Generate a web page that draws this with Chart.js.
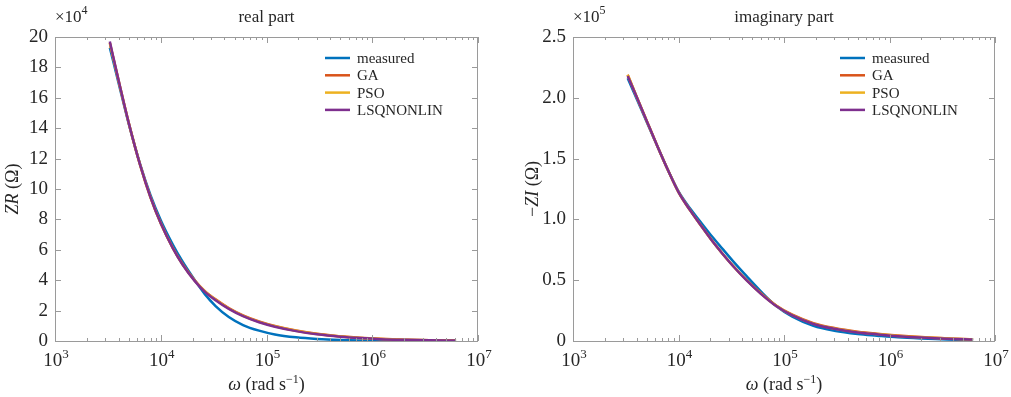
<!DOCTYPE html>
<html>
<head>
<meta charset="utf-8">
<script src="https://cdn.jsdelivr.net/npm/chart.js@4.4.0/dist/chart.umd.min.js"></script>
<style>
  body { margin: 0; background: #fff; }
  .panel { position: absolute; top: 0; }
</style>
</head>
<body>
<div class="panel" style="left:0"><canvas id="realChart" width="505" height="397"></canvas></div>
<div class="panel" style="left:505px"><canvas id="imagChart" width="506" height="397"></canvas></div>
<script>
// angular frequency (rad/s)
var freq = [3.3e3, 4e3, 5e3, 6.4e3, 8e3, 1e4, 1.3e4, 1.6e4, 2.1e4, 2.6e4, 3.3e4, 4.4e4,
            6e4, 8.5e4, 1.2e5, 1.9e5, 3e5, 5e5, 7.6e5, 1.2e6, 2e6, 3.5e6, 6.2e6];

// real part, x 10^4 ohm
var realMeasured = [19.3, 16.95, 14.25, 11.6, 9.6, 7.95, 6.35, 5.25, 4.0, 3.1, 2.3, 1.58,
                    1.05, 0.68, 0.43, 0.24, 0.13, 0.06, 0.03, 0.015, 0.008, 0.004, 0.002];
var realGA = [19.6, 17.1, 14.3, 11.55, 9.45, 7.75, 6.13, 5.08, 3.98, 3.3, 2.74, 2.17,
              1.69, 1.29, 0.99, 0.69, 0.47, 0.31, 0.21, 0.14, 0.09, 0.055, 0.04];
var realPSO = [19.6, 17.1, 14.3, 11.55, 9.45, 7.74, 6.12, 5.06, 3.96, 3.28, 2.71, 2.14,
               1.66, 1.26, 0.97, 0.67, 0.455, 0.295, 0.2, 0.13, 0.082, 0.05, 0.035];
var realLSQ = [19.7, 17.13, 14.3, 11.55, 9.45, 7.74, 6.11, 5.05, 3.94, 3.25, 2.68, 2.11,
               1.63, 1.23, 0.94, 0.65, 0.44, 0.28, 0.19, 0.12, 0.075, 0.045, 0.03];

// imaginary part (-ZI), x 10^5 ohm
var imagMeasured = [2.16, 1.995, 1.8, 1.59, 1.4, 1.23, 1.085, 0.985, 0.855, 0.76, 0.655, 0.535,
                    0.41, 0.285, 0.2, 0.125, 0.085, 0.058, 0.044, 0.03, 0.02, 0.012, 0.008];
var imagGA = [2.19, 2.01, 1.81, 1.59, 1.4, 1.225, 1.07, 0.96, 0.82, 0.72, 0.617, 0.503,
              0.395, 0.29, 0.216, 0.147, 0.107, 0.077, 0.06, 0.045, 0.032, 0.021, 0.015];
var imagPSO = [2.19, 2.01, 1.81, 1.59, 1.4, 1.225, 1.07, 0.96, 0.82, 0.72, 0.616, 0.502,
               0.392, 0.287, 0.213, 0.143, 0.103, 0.073, 0.057, 0.042, 0.03, 0.02, 0.013];
var imagLSQ = [2.18, 2.01, 1.81, 1.59, 1.4, 1.225, 1.07, 0.96, 0.82, 0.72, 0.615, 0.5,
               0.39, 0.285, 0.21, 0.14, 0.1, 0.07, 0.055, 0.04, 0.028, 0.018, 0.012];

var seriesNames = ['measured', 'GA', 'PSO', 'LSQNONLIN'];
var seriesColors = ['#0072BD', '#D95319', '#EDB120', '#7E2F8E'];
var xTicks = [1e3, 1e4, 1e5, 1e6, 1e7];
var realTicks = [0, 2, 4, 6, 8, 10, 12, 14, 16, 18, 20];
var imagTicks = [0, 0.5, 1.0, 1.5, 2.0, 2.5];

var SERIF = '"Liberation Serif", "Times New Roman", serif';
var TEXT = '#262626';
var FRAME = '#9a9a9a';

function drawRich(ctx, parts, x, y, align) {
    var total = 0;
    parts.forEach(function (p) {
        ctx.font = p.font;
        p.w = ctx.measureText(p.t).width;
        total += p.w;
    });
    var cx = x;
    if (align === 'center') cx = x - total / 2;
    if (align === 'right') cx = x - total;
    ctx.textAlign = 'left';
    ctx.textBaseline = 'alphabetic';
    parts.forEach(function (p) {
        ctx.font = p.font;
        ctx.fillText(p.t, cx, y + (p.dy || 0));
        cx += p.w;
    });
}

function makeChart(id, cfg) {
    var datasets = [cfg.measured, cfg.ga, cfg.pso, cfg.lsq].map(function (vals, i) {
        return {
            label: seriesNames[i],
            data: freq.map(function (f, j) { return { x: f, y: vals[j] }; }),
            borderColor: seriesColors[i],
            borderWidth: 2.5,
            pointRadius: 0,
            fill: false,
            cubicInterpolationMode: 'monotone',
            order: 4 - i
        };
    });

    var decor = {
        id: 'decor',
        afterDatasetsDraw: function (chart) {
            var ctx = chart.ctx;
            var a = chart.chartArea;
            var xs = chart.scales.x, ys = chart.scales.y;
            ctx.save();
            ctx.strokeStyle = FRAME;
            ctx.lineWidth = 1;
            ctx.strokeRect(a.left + 0.5, a.top + 0.5, a.right - a.left - 1, a.bottom - a.top);
            ctx.beginPath();
            // x ticks, major and minor, bottom and top
            for (var d = 3; d <= 7; d++) {
                for (var m = 1; m <= 9; m++) {
                    var v = m * Math.pow(10, d);
                    if (v > 1e7) break;
                    var px = Math.round(xs.getPixelForValue(v)) + 0.5;
                    var len = m === 1 ? 6 : 3;
                    ctx.moveTo(px, a.bottom); ctx.lineTo(px, a.bottom - len);
                    ctx.moveTo(px, a.top); ctx.lineTo(px, a.top + len);
                }
            }
            cfg.yTicks.forEach(function (v) {
                var py = Math.round(ys.getPixelForValue(v)) + 0.5;
                ctx.moveTo(a.left, py); ctx.lineTo(a.left + 6, py);
                ctx.moveTo(a.right, py); ctx.lineTo(a.right - 6, py);
            });
            ctx.stroke();

            ctx.fillStyle = TEXT;
            // x tick labels with exponent
            xTicks.forEach(function (v) {
                var px = xs.getPixelForValue(v);
                var e = String(Math.round(Math.log10(v)));
                drawRich(ctx, [
                    { t: '10', font: '19px ' + SERIF },
                    { t: e, font: '13px ' + SERIF, dy: -8 }
                ], px + 1, a.bottom + 25, 'center');
            });
            // axis titles
            var cxp = (a.left + a.right) / 2;
            drawRich(ctx, [
                { t: 'ω', font: 'italic 18px ' + SERIF },
                { t: ' (rad s', font: '18px ' + SERIF },
                { t: '−1', font: '12px ' + SERIF, dy: -7 },
                { t: ')', font: '18px ' + SERIF }
            ], cxp, a.bottom + 49, 'center');
            drawRich(ctx, [{ t: cfg.title, font: '17px ' + SERIF }], cxp, 22, 'center');
            drawRich(ctx, [
                { t: '×10', font: '17px ' + SERIF },
                { t: cfg.exp, font: '12px ' + SERIF, dy: -8 }
            ], a.left, 22, 'left');

            ctx.save();
            ctx.translate(cfg.yTitleX, (a.top + a.bottom) / 2);
            ctx.rotate(-Math.PI / 2);
            drawRich(ctx, cfg.yTitle, 0, 0, 'center');
            ctx.restore();

            // legend
            seriesNames.forEach(function (name, i) {
                var ly = 58 + i * 17.3;
                ctx.strokeStyle = seriesColors[i];
                ctx.lineWidth = 2.5;
                ctx.beginPath();
                ctx.moveTo(cfg.legendX, ly);
                ctx.lineTo(cfg.legendX + 25, ly);
                ctx.stroke();
                ctx.font = '15px ' + SERIF;
                ctx.fillStyle = TEXT;
                ctx.textBaseline = 'middle';
                ctx.textAlign = 'left';
                ctx.fillText(name, cfg.legendX + 32, ly + 1);
            });
            ctx.restore();
        }
    };

    return new Chart(document.getElementById(id).getContext('2d'), {
        type: 'line',
        data: { datasets: datasets },
        options: {
            responsive: false,
            animation: false,
            layout: { padding: { top: 37, right: cfg.padRight, left: 0, bottom: 0 } },
            plugins: { legend: { display: false }, tooltip: { enabled: false } },
            scales: {
                x: {
                    type: 'logarithmic',
                    min: 1e3,
                    max: 1e7,
                    grid: { display: false, drawTicks: false },
                    border: { display: false },
                    ticks: { display: false },
                    afterFit: function (scale) { scale.height = 56; }
                },
                y: {
                    type: 'linear',
                    min: 0,
                    max: cfg.yTicks[cfg.yTicks.length - 1],
                    grid: { display: false, drawTicks: false },
                    border: { display: false },
                    afterBuildTicks: function (scale) {
                        scale.ticks = cfg.yTicks.map(function (v) { return { value: v }; });
                    },
                    ticks: {
                        padding: 7,
                        color: TEXT,
                        font: { family: SERIF, size: 19 },
                        callback: cfg.yFmt
                    },
                    afterFit: function (scale) { scale.width = cfg.plotLeft; }
                }
            }
        },
        plugins: [decor]
    });
}

makeChart('realChart', {
    measured: realMeasured, ga: realGA, pso: realPSO, lsq: realLSQ,
    yTicks: realTicks,
    yFmt: function (v) { return String(v); },
    title: 'real part',
    exp: '4',
    plotLeft: 55,
    padRight: 27,
    legendX: 325,
    yTitleX: 18,
    yTitle: [
        { t: 'ZR', font: 'italic 18px ' + SERIF },
        { t: ' (Ω)', font: '18px ' + SERIF }
    ]
});

makeChart('imagChart', {
    measured: imagMeasured, ga: imagGA, pso: imagPSO, lsq: imagLSQ,
    yTicks: imagTicks,
    yFmt: function (v) { return v === 0 ? '0' : v.toFixed(1); },
    title: 'imaginary part',
    exp: '5',
    plotLeft: 68,
    padRight: 16,
    legendX: 335,
    yTitleX: 33,
    yTitle: [
        { t: '−', font: '18px ' + SERIF },
        { t: 'ZI', font: 'italic 18px ' + SERIF },
        { t: ' (Ω)', font: '18px ' + SERIF }
    ]
});
</script>
</body>
</html>
